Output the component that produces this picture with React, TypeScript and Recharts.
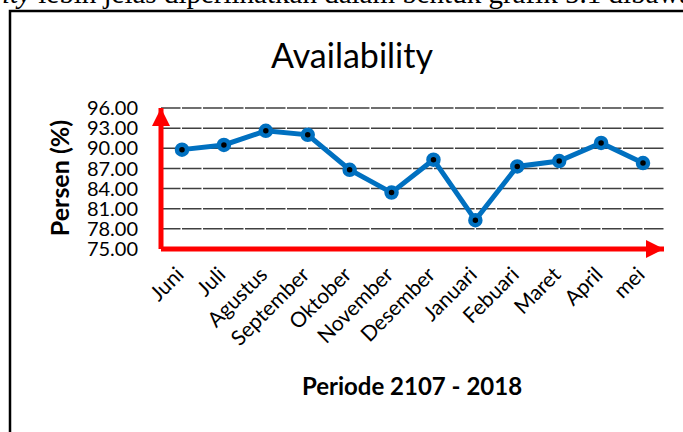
import { LineChart, Line, XAxis, YAxis, CartesianGrid } from 'recharts'

const months = ['Juni', 'Juli', 'Agustus', 'September', 'Oktober', 'November', 'Desember', 'Januari', 'Febuari', 'Maret', 'April', 'mei']
const availability = [89.8, 90.5, 92.6, 92.0, 86.8, 83.4, 88.3, 79.3, 87.3, 88.1, 90.8, 87.8]
const yTicks = [75, 78, 81, 84, 87, 90, 93, 96]

const data = months.map((month, i) => ({ month, value: availability[i] }))

const RED = '#ff0000'
const BLUE = '#0070c0'
const FONT = 'Lato, "Open Sans", sans-serif'

function MonthTick({ x, y, payload }: any) {
  const tx = x + 3
  const ty = y + 27
  return (
    <text x={tx} y={ty} transform={`rotate(-45, ${tx}, ${ty})`} textAnchor="end" fontSize={21} fill="#000" fontFamily={FONT}>
      {payload.value}
    </text>
  )
}

function PointMarker({ cx, cy }: any) {
  return <circle cx={cx} cy={cy} r={5} fill="#000" stroke={BLUE} strokeWidth={4.5} />
}

export default function App() {
  return (
    <div style={{ position: 'absolute', left: 0, top: 0, width: 683, height: 432, overflow: 'hidden', background: '#fff' }}>
      <div style={{ position: 'absolute', left: 0, top: 0 }}>
        <LineChart width={683} height={432} data={data} margin={{ top: 108, right: 19, bottom: 0, left: 0 }}>
          <defs>
            <marker id="redArrow" markerUnits="userSpaceOnUse" markerWidth={18} markerHeight={18} viewBox="0 0 18 18" refX={18} refY={9} orient="auto-start-reverse">
              <path d="M0,0 L18,9 L0,18 z" fill={RED} />
            </marker>
          </defs>
          <CartesianGrid vertical={false} stroke="#404040" strokeWidth={1.5} strokeDasharray="19.5 1.5" />
          <XAxis
            dataKey="month"
            height={183}
            padding={{ left: 21, right: 21 }}
            tickLine={false}
            tickSize={0}
            tickMargin={0}
            interval={0}
            tick={<MonthTick />}
            axisLine={{ stroke: RED, strokeWidth: 5, markerEnd: 'url(#redArrow)' }}
          />
          <YAxis
            width={161}
            domain={[75, 96]}
            ticks={yTicks}
            interval={0}
            tickFormatter={(v: number) => v.toFixed(2)}
            tickLine={false}
            tickSize={0}
            tickMargin={23}
            tick={{ fill: '#000', fontSize: 20, fontFamily: FONT }}
            axisLine={{ stroke: RED, strokeWidth: 5, markerStart: 'url(#redArrow)' }}
          />
          <Line
            dataKey="value"
            stroke={BLUE}
            strokeWidth={5}
            dot={<PointMarker />}
            activeDot={false}
            isAnimationActive={false}
          />
        </LineChart>
      </div>
      <svg width={683} height={432} style={{ position: 'absolute', left: 0, top: 0, pointerEvents: 'none' }}>
        <text x={2} y={3} fontFamily='"Liberation Serif", serif' fontSize={29} fill="#000">
          <tspan fontStyle="italic">ity</tspan> lebih jelas diperlihatkan dalam bentuk grafik 5.1 dibawah ini
        </text>
        <path d="M10,440 L10,11 L690,11" fill="none" stroke="#000" strokeWidth={2.5} />
        <text x={352} y={68} textAnchor="middle" fontFamily={FONT} fontSize={34} fill="#000">Availability</text>
        <text x={69} y={178} transform="rotate(-90, 69, 178)" textAnchor="middle" fontFamily={FONT} fontWeight="bold" fontSize={25} fill="#000">Persen (%)</text>
        <text x={412} y={395} textAnchor="middle" fontFamily={FONT} fontWeight="bold" fontSize={24} fill="#000">Periode 2107 - 2018</text>
      </svg>
    </div>
  )
}
